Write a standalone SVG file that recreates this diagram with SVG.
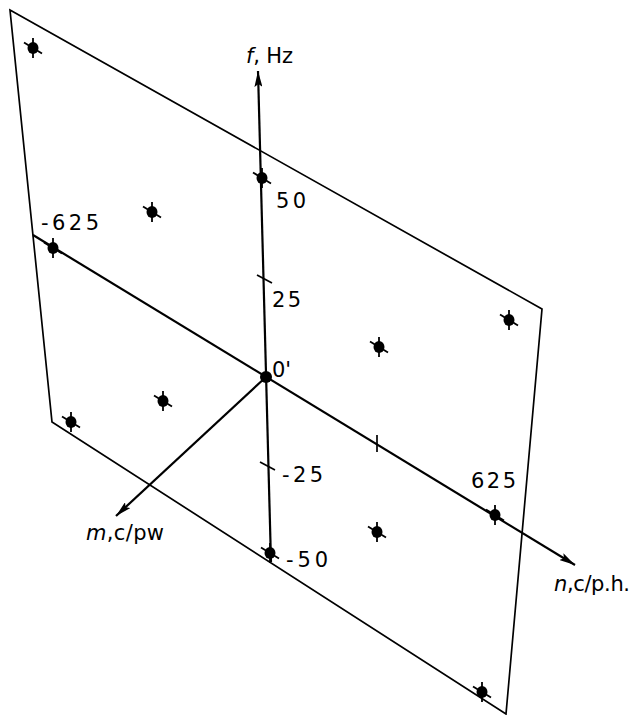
<svg xmlns="http://www.w3.org/2000/svg" xmlns:xlink="http://www.w3.org/1999/xlink" width="631" height="715" viewBox="0 0 631 715">
<style>
.edge{fill:none;stroke:#000;stroke-width:1.7;stroke-linejoin:miter}
.axis{fill:none;stroke:#000;stroke-width:2.2}
.tick{fill:none;stroke:#000;stroke-width:1.7}
text{font-family:"DejaVu Sans","Liberation Sans",sans-serif;font-size:21px;fill:#000}
.it{font-style:italic}
</style>
<defs>
<marker id="arr" markerUnits="userSpaceOnUse" viewBox="0 0 16 8" refX="16" refY="4" markerWidth="16" markerHeight="8" orient="auto">
<path d="M0,0 L16,4 L0,8 L3,4 z" fill="#000"/>
</marker>
<g id="dot">
<ellipse cx="0" cy="0" rx="5.5" ry="6" fill="#000"/>
<line x1="0" y1="-10" x2="0" y2="10" stroke="#000" stroke-width="1.8"/>
<line x1="-9" y1="-5.5" x2="9" y2="5.5" stroke="#000" stroke-width="1.8"/>
</g>
</defs>
<rect width="631" height="715" fill="#fff"/>
<g id="plane">
<polygon class="edge" points="10,10 542,309 506,714 52,422"/>
</g>
<g id="connectors">
<line class="axis" x1="271" y1="562" x2="258" y2="71" marker-end="url(#arr)"/>
<line class="axis" x1="33" y1="235" x2="575" y2="565" marker-end="url(#arr)"/>
<line class="axis" x1="266" y1="377" x2="116" y2="516" marker-end="url(#arr)"/>
<line class="tick" x1="257" y1="275" x2="272" y2="283"/>
<line class="tick" x1="260" y1="462" x2="275" y2="470"/>
<line class="tick" x1="377" y1="435" x2="377" y2="452"/>
</g>
<g id="origin"><circle cx="266" cy="377" r="6" fill="#000"/></g>
<g id="p1"><use xlink:href="#dot" x="33" y="48"/></g>
<g id="p2"><use xlink:href="#dot" x="262" y="178"/></g>
<g id="p3"><use xlink:href="#dot" x="152" y="212"/></g>
<g id="p4"><use xlink:href="#dot" x="53" y="248"/></g>
<g id="p5"><use xlink:href="#dot" x="379" y="347"/></g>
<g id="p6"><use xlink:href="#dot" x="509" y="320"/></g>
<g id="p7"><use xlink:href="#dot" x="71" y="422"/></g>
<g id="p8"><use xlink:href="#dot" x="163" y="401"/></g>
<g id="p9"><use xlink:href="#dot" x="377" y="532"/></g>
<g id="p10"><use xlink:href="#dot" x="495" y="515"/></g>
<g id="p11"><use xlink:href="#dot" x="270" y="553"/></g>
<g id="p12"><use xlink:href="#dot" x="482" y="692"/></g>
<g id="labels">
<text x="246" y="63" textLength="47" lengthAdjust="spacing"><tspan class="it">f</tspan>, Hz</text>
<text x="276" y="208" textLength="30" lengthAdjust="spacing">50</text>
<text x="272" y="307" textLength="29" lengthAdjust="spacing">25</text>
<text x="272" y="377">0'</text>
<text x="282" y="482" textLength="41" lengthAdjust="spacing">-25</text>
<text x="286" y="567" textLength="42" lengthAdjust="spacing">-50</text>
<text x="41" y="230" textLength="58" lengthAdjust="spacing">-625</text>
<text x="471" y="488" textLength="45" lengthAdjust="spacing">625</text>
<text x="86" y="540" textLength="78" lengthAdjust="spacing"><tspan class="it">m</tspan>,c/pw</text>
<text x="554" y="591" textLength="76" lengthAdjust="spacing"><tspan class="it">n</tspan>,c/p.h.</text>
</g>
</svg>
